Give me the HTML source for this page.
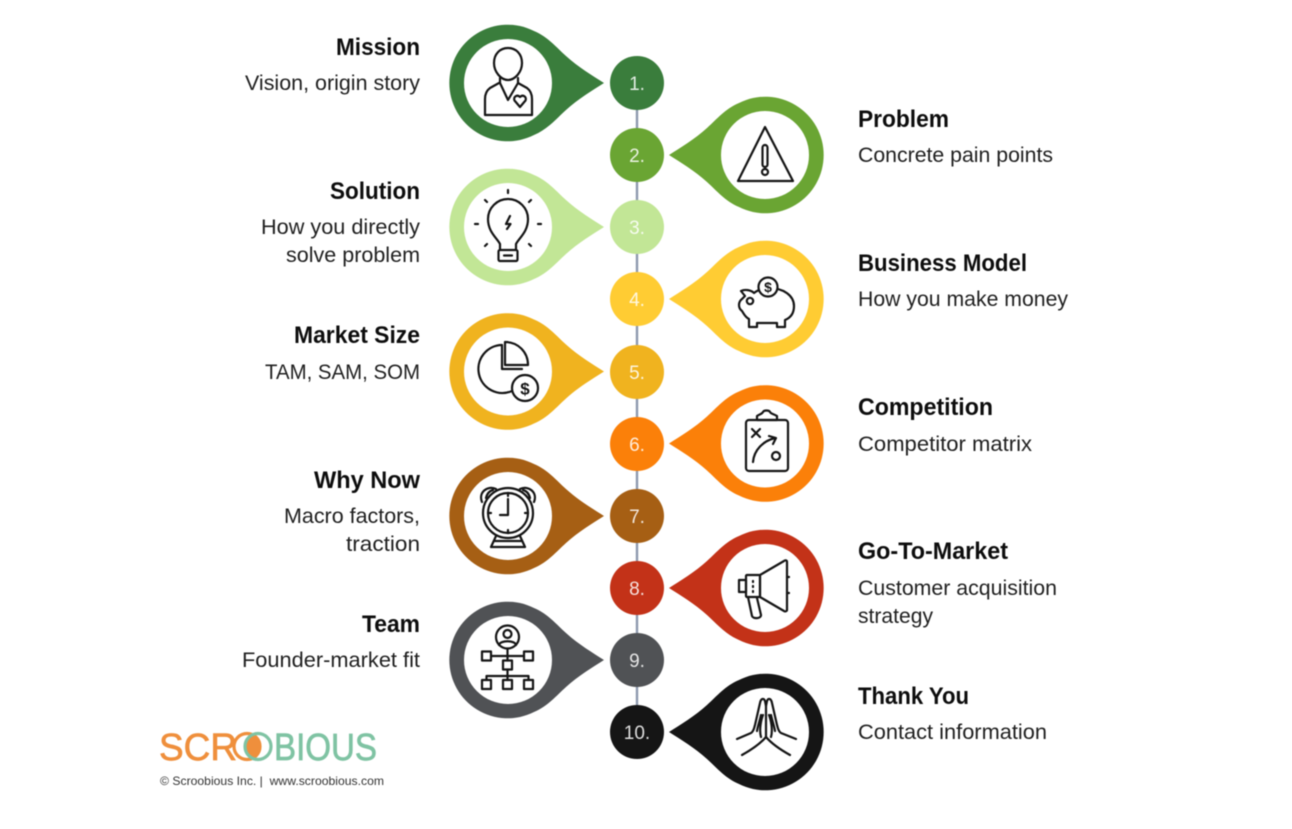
<!DOCTYPE html>
<html>
<head>
<meta charset="utf-8">
<title>Pitch deck outline</title>
<style>
html,body{margin:0;padding:0;background:#fff}
svg{display:block;filter:blur(.5px)}
text{font-family:"Liberation Sans",sans-serif}
.h{font-size:24px;font-weight:700;fill:#0d0d0d}
.s{font-size:21.5px;fill:#1f1f1f}
.n{font-size:19px;fill:#fff;text-anchor:middle;fill-opacity:.85}
.i{fill:none;stroke:#151515;stroke-width:2.2;stroke-linecap:round;stroke-linejoin:round}
</style>
</head>
<body>
<svg xmlns="http://www.w3.org/2000/svg" xmlns:xlink="http://www.w3.org/1999/xlink" width="1292" height="829" viewBox="0 0 1292 829">
<defs>
<path id="pin" d="M96,0 C85,-7 70,-16 58,-27 C48,-36 40,-46 26,-52 A58.3,58.3 0 1 0 26,52 C40,46 48,36 58,27 C70,16 85,7 96,0 Z"/>
</defs>
<rect width="1292" height="829" fill="#fff"/>

<line x1="637" y1="83" x2="637" y2="732" stroke="#8e9aaf" stroke-width="2.4"/>

<!-- pins -->
<g>
<use xlink:href="#pin" href="#pin" transform="translate(508,83)" fill="#3a7d3c"/>
<use xlink:href="#pin" href="#pin" transform="translate(508,227)" fill="#c2e696"/>
<use xlink:href="#pin" href="#pin" transform="translate(508,371.5)" fill="#f0b31f"/>
<use xlink:href="#pin" href="#pin" transform="translate(508,516)" fill="#a65f14"/>
<use xlink:href="#pin" href="#pin" transform="translate(508,660)" fill="#505255"/>
<use xlink:href="#pin" href="#pin" transform="translate(765,155) scale(-1,1)" fill="#6aa533"/>
<use xlink:href="#pin" href="#pin" transform="translate(765,299) scale(-1,1)" fill="#ffcc33"/>
<use xlink:href="#pin" href="#pin" transform="translate(765,443.5) scale(-1,1)" fill="#fb8009"/>
<use xlink:href="#pin" href="#pin" transform="translate(765,588) scale(-1,1)" fill="#c33218"/>
<use xlink:href="#pin" href="#pin" transform="translate(765,732) scale(-1,1)" fill="#151515"/>
</g>
<g fill="#fff">
<circle cx="508" cy="83" r="44"/><circle cx="508" cy="227" r="44"/><circle cx="508" cy="371.5" r="44"/><circle cx="508" cy="516" r="44"/><circle cx="508" cy="660" r="44"/>
<circle cx="765" cy="155" r="44"/><circle cx="765" cy="299" r="44"/><circle cx="765" cy="443.5" r="44"/><circle cx="765" cy="588" r="44"/><circle cx="765" cy="732" r="44"/>
</g>

<!-- numbered circles -->
<circle cx="637" cy="83" r="27" fill="#3a7d3c"/>
<circle cx="637" cy="155" r="27" fill="#6aa533"/>
<circle cx="637" cy="227" r="27" fill="#c2e696"/>
<circle cx="637" cy="299" r="27" fill="#ffcc33"/>
<circle cx="637" cy="372" r="27" fill="#f0b31f"/>
<circle cx="637" cy="444" r="27" fill="#fb8009"/>
<circle cx="637" cy="516" r="27" fill="#a65f14"/>
<circle cx="637" cy="588" r="27" fill="#c33218"/>
<circle cx="637" cy="660" r="27" fill="#505255"/>
<circle cx="637" cy="732" r="27" fill="#151515"/>
<text class="n" x="637" y="90">1.</text>
<text class="n" x="637" y="162">2.</text>
<text class="n" x="637" y="234">3.</text>
<text class="n" x="637" y="306">4.</text>
<text class="n" x="637" y="379">5.</text>
<text class="n" x="637" y="451">6.</text>
<text class="n" x="637" y="523">7.</text>
<text class="n" x="637" y="595">8.</text>
<text class="n" x="637" y="667">9.</text>
<text class="n" x="637" y="739">10.</text>

<!-- left labels -->
<text class="h" x="336" y="55" textLength="84" lengthAdjust="spacingAndGlyphs">Mission</text>
<text class="s" x="245" y="90" textLength="175" lengthAdjust="spacingAndGlyphs">Vision, origin story</text>
<text class="h" x="330" y="199" textLength="90" lengthAdjust="spacingAndGlyphs">Solution</text>
<text class="s" x="261" y="234" textLength="159" lengthAdjust="spacingAndGlyphs">How you directly</text>
<text class="s" x="286" y="262" textLength="134" lengthAdjust="spacingAndGlyphs">solve problem</text>
<text class="h" x="294" y="343" textLength="126" lengthAdjust="spacingAndGlyphs">Market Size</text>
<text class="s" x="265" y="379" textLength="155" lengthAdjust="spacingAndGlyphs">TAM, SAM, SOM</text>
<text class="h" x="314" y="488" textLength="106" lengthAdjust="spacingAndGlyphs">Why Now</text>
<text class="s" x="284" y="523" textLength="136" lengthAdjust="spacingAndGlyphs">Macro factors,</text>
<text class="s" x="346" y="551" textLength="74" lengthAdjust="spacingAndGlyphs">traction</text>
<text class="h" x="362" y="632" textLength="58" lengthAdjust="spacingAndGlyphs">Team</text>
<text class="s" x="242" y="667" textLength="178" lengthAdjust="spacingAndGlyphs">Founder-market fit</text>

<!-- right labels -->
<text class="h" x="858" y="127" textLength="91" lengthAdjust="spacingAndGlyphs">Problem</text>
<text class="s" x="858" y="162" textLength="195" lengthAdjust="spacingAndGlyphs">Concrete pain points</text>
<text class="h" x="858" y="271" textLength="169" lengthAdjust="spacingAndGlyphs">Business Model</text>
<text class="s" x="858" y="306" textLength="210" lengthAdjust="spacingAndGlyphs">How you make money</text>
<text class="h" x="858" y="415" textLength="135" lengthAdjust="spacingAndGlyphs">Competition</text>
<text class="s" x="858" y="451" textLength="174" lengthAdjust="spacingAndGlyphs">Competitor matrix</text>
<text class="h" x="858" y="559" textLength="150" lengthAdjust="spacingAndGlyphs">Go-To-Market</text>
<text class="s" x="858" y="595" textLength="199" lengthAdjust="spacingAndGlyphs">Customer acquisition</text>
<text class="s" x="858" y="623" textLength="75" lengthAdjust="spacingAndGlyphs">strategy</text>
<text class="h" x="858" y="704" textLength="111" lengthAdjust="spacingAndGlyphs">Thank You</text>
<text class="s" x="858" y="739" textLength="189" lengthAdjust="spacingAndGlyphs">Contact information</text>

<!-- icon 1: person -->
<g class="i">
<path d="M494,63 C494,54 500,48 508,48 C516,48 522,54 522,63 C522,72 515,80 508,80 C501,80 494,72 494,63 Z"/>
<path d="M500,78 V83 L508,100 L518,83 V78"/>
<path d="M499,83 L490,88 C486,91 485,95 485,99 V115 H532 V99 C532,95 531,91 527,88 L518,83"/>
<path d="M520,107 L514.5,100.5 C513,97 517,94 520,97 C523,94 527,97 525.5,100.5 Z"/>
</g>

<!-- icon 2: warning -->
<g class="i">
<path d="M765,127 L738,181 H793 Z"/>
<rect x="762.5" y="145" width="5" height="22" rx="2.5"/>
<circle cx="765" cy="172" r="3"/>
</g>

<!-- icon 3: bulb -->
<g class="i">
<path d="M500,249 V244 C497,238 488,232 488,219 C488,208 497,199 508,199 C519,199 528,208 528,219 C528,232 519,238 516,244 V249"/>
<rect x="498.5" y="250" width="19" height="11" rx="1.5"/>
<line x1="504" y1="255.5" x2="512" y2="255.5"/>
<path d="M510,216 L506,224 H510.5 L507,229"/>
<path d="M508,190 V193 M485,200 L487,202 M531,200 L529,202 M475,224 H478 M538,224 H541 M485,246 L487,244 M531,246 L529,244"/>
</g>

<!-- icon 4: piggy -->
<g class="i">
<path d="M745,296 L741,291 C745,289 751,290 754,293 C759,289 764,288 769,288 C784,288 794,296 794,306 C794,314 790,318 785,320 V327 H777 V323 H757 V327 H749 V319 C745,317 744,314 742,311 C738,308 738,302 742,299 Z"/>
<circle cx="750" cy="301" r="3.2"/>
<circle cx="768" cy="287" r="9.5" fill="#fff"/>
<text x="768" y="292" text-anchor="middle" style="font-size:14px;font-weight:700;fill:#151515;stroke:none">$</text>
</g>

<!-- icon 5: pie -->
<g class="i">
<path d="M502,345 A24,24 0 1 0 512,391 M502,345 V369 H522"/>
<path d="M505,342 V365 H528 C528,352 518,342 505,342 Z"/>
<circle cx="525" cy="388" r="13" fill="#fff"/>
<text x="525" y="394.5" text-anchor="middle" style="font-size:17px;font-weight:700;fill:#151515;stroke:none">$</text>
</g>

<!-- icon 6: clipboard -->
<g class="i">
<rect x="746" y="420" width="42" height="51" rx="3"/>
<path d="M757,420 V416 C760,414 762,414 763,412 C764,410 769,410 770,412 C771,414 774,414 777,416 V420 Z"/>
<path d="M752,429 L760,437 M760,429 L752,437"/>
<path d="M753,462 C754,450 763,441 775,438 M769,436 L776,438 L773,444"/>
<circle cx="776" cy="456" r="4"/>
</g>

<!-- icon 7: clock -->
<g class="i">
<circle cx="508" cy="513" r="25"/>
<circle cx="508" cy="513" r="20"/>
<path d="M508,499 V515 H500"/>
<path d="M508,493 V496 M508,530 V533 M488,513 H491 M525,513 H528"/>
<path d="M482,502 C478,492 488,485 496,489 M534,502 C538,492 528,485 520,489"/>
<path d="M486,498 C487,494 489,491 493,490 M530,498 C529,494 527,491 523,490"/>
<path d="M496,536 L491,547 M520,536 L525,547 M491,547 H525 M494,541 H522"/>
</g>

<!-- icon 8: megaphone -->
<g class="i">
<path d="M760,575 L784,561 C785,560 787,560 787,562 V610 C787,611 785,612 784,611 L760,597 Z"/>
<rect x="746" y="575" width="14" height="22" rx="1"/>
<rect x="739" y="580" width="7" height="12"/>
<path d="M748,597 L752,616 C753,619 761,619 761,615 L757,598"/>
<path d="M753,581 V582 M753,586 V587 M753,591 V592"/>
<path d="M787,577 H789 M787,593 H789"/>
</g>

<!-- icon 9: org chart -->
<g class="i">
<circle cx="507.5" cy="637" r="11.5"/>
<circle cx="507.5" cy="634" r="4"/>
<path d="M499,645 C500,640 515,640 516,645"/>
<path d="M507.5,648.5 V660.5 M491,656 H524 M507.5,669.5 V680 M486.5,680 V676 H528.5 V680"/>
<rect x="482" y="651.5" width="9" height="9"/>
<rect x="524" y="651.5" width="9" height="9"/>
<rect x="503" y="660.5" width="9" height="9"/>
<rect x="482" y="680" width="9" height="9"/>
<rect x="503" y="680" width="9" height="9"/>
<rect x="524" y="680" width="9" height="9"/>
</g>

<!-- icon 10: praying hands -->
<g class="i">
<path d="M737,739 L751,733 C754,731 754,728 755,725 L760,703 C761,698 764,698 765,701 L766,706 L767,701 C768,698 771,698 772,703 L777,725 C778,728 778,731 781,733 L796,739"/>
<path d="M742,755 C751,750 760,744 766,737 C772,744 781,750 790,755"/>
<path d="M766,706 V737 M761,737 C759,730 761,720 763,715 M771,737 C773,730 771,720 769,715 M757,731 C758,725 760,720 761,715 M775,731 C774,725 772,720 771,715"/>
</g>

<!-- logo -->
<text x="159" y="760" textLength="78" lengthAdjust="spacingAndGlyphs" style="font-size:38px;fill:#ef8f3c;stroke:#ef8f3c;stroke-width:.7">SCR</text>
<circle cx="247" cy="746.5" r="13" fill="none" stroke="#ef8f3c" stroke-width="3.2"/>
<path d="M252,735 A13,13 0 0 1 252,758 A13,13 0 0 1 252,735 Z" fill="#ef8f3c"/>
<circle cx="258" cy="746.5" r="13" fill="none" stroke="#7fc3a3" stroke-width="3.2"/>
<text x="274" y="760" textLength="103" lengthAdjust="spacingAndGlyphs" style="font-size:38px;fill:#7fc3a3;stroke:#7fc3a3;stroke-width:.7">BIOUS</text>
<text x="160" y="785" textLength="224" lengthAdjust="spacingAndGlyphs" style="font-size:12px;fill:#333" xml:space="preserve">© Scroobious Inc. |  www.scroobious.com</text>
</svg>
</body>
</html>
